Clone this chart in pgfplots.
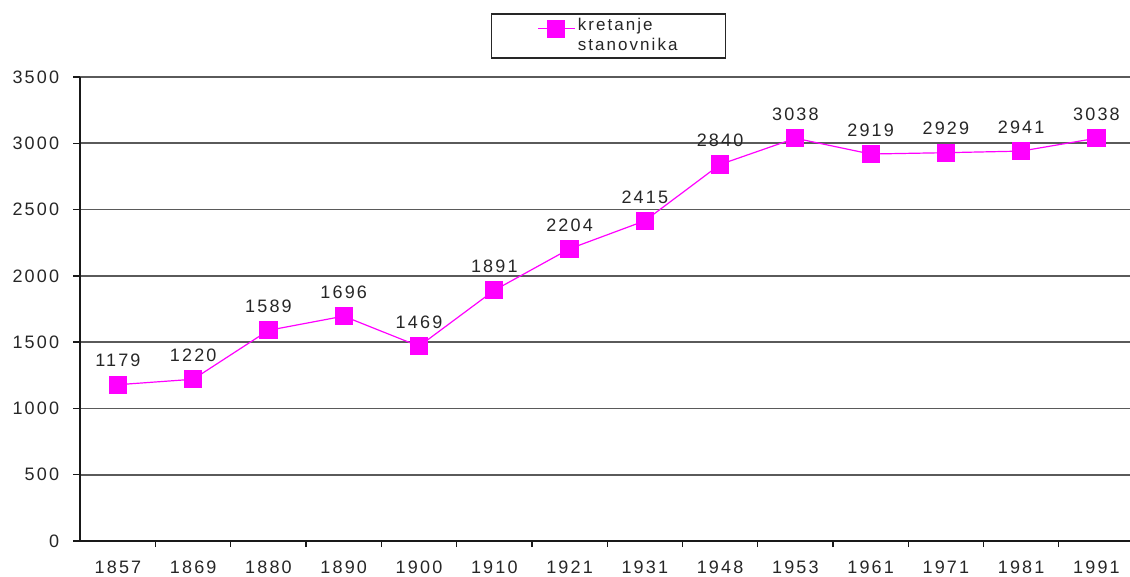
\documentclass[border=0pt]{standalone}
\usepackage{pgfplots}
\pgfplotsset{compat=1.18}
\usepackage{fontspec}
\setmainfont{Liberation Sans}[LetterSpace=12]
\definecolor{mag}{HTML}{FF00FF}
\definecolor{gridc}{HTML}{5A5A5A}
\begin{document}
\fontsize{18}{21}\selectfont
\begin{tikzpicture}
\path[use as bounding box] (-80.3pt,-35pt) rectangle (1049.7pt,541pt);
\begin{axis}[
  scale only axis,
  width=1050pt, height=464pt,
  xmin=-0.5, xmax=13.45,
  ymin=0, ymax=3500,
  ytick={0,500,...,3500},
  xtick={0,...,13},
  xticklabels={1857,1869,1880,1890,1900,1910,1921,1931,1948,1953,1961,1971,1981,1991},
  minor xtick={0.5,1.5,...,12.5},
  axis x line*=bottom, axis y line*=left,
  axis line style={black!90, line width=1.6pt},
  tick align=outside,
  major tick length=7pt, minor tick length=6pt,
  major x tick style={draw=none},
  minor x tick style={black!90, line width=1.3pt},
  y tick style={black!90, line width=1.3pt},
  ymajorgrids,
  grid style={gridc, line width=1.8pt},
  tick label style={font=\fontsize{18}{21}\selectfont, text=black!85},
  yticklabel style={xshift=-8pt},
  xticklabel style={yshift=-7pt},
  /pgf/number format/assume math mode=true,
  /pgf/number format/1000 sep={},
  nodes near coords,
  every node near coord/.append style={font=\fontsize{18}{21}\selectfont, text=black!85, anchor=south, yshift=11pt},
  legend style={at={(0.3911,1.1379)}, anchor=north west, draw=black!85, line width=1.5pt,
    font=\fontsize{17}{20}\selectfont, text=black!85, inner xsep=46pt, inner ysep=2.5pt,
    cells={align=left}},
  legend cell align=left,
  legend image code/.code={\draw[#1, line width=1.2pt, mark=none] (3pt,7pt) -- (40pt,7pt);
     \draw[#1, only marks] plot coordinates {(21pt,7pt)};},
]
\addplot[mag, line width=1.2pt, mark=square*, mark size=8.5pt, mark options={fill=mag, draw=mag}]
  coordinates {(0,1179)(1,1220)(2,1589)(3,1696)(4,1469)(5,1891)(6,2204)(7,2415)(8,2840)(9,3038)(10,2919)(11,2929)(12,2941)(13,3038)};
\addlegendentry{kretanje\\stanovnika}
\end{axis}
\end{tikzpicture}
\end{document}
